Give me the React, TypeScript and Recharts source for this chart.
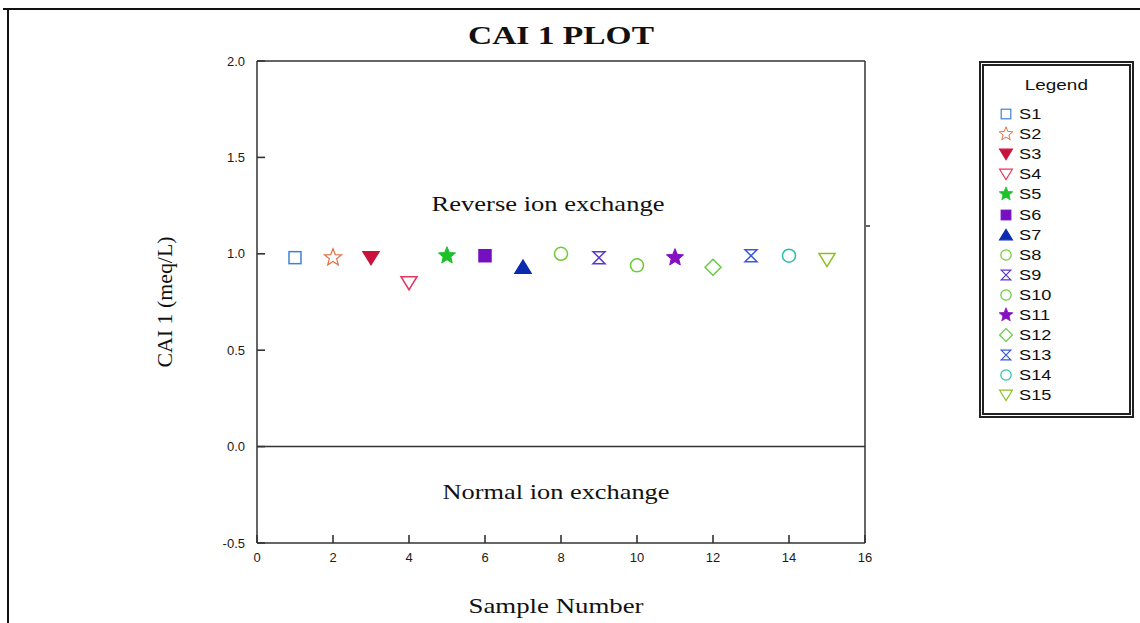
import { ReferenceLine, Scatter, ScatterChart, XAxis, YAxis } from 'recharts';

type Shape = 'square' | 'star' | 'triDown' | 'triUp' | 'circle' | 'hourglass' | 'diamond';

const seriesNames = ['S1', 'S2', 'S3', 'S4', 'S5', 'S6', 'S7', 'S8', 'S9', 'S10', 'S11', 'S12', 'S13', 'S14', 'S15'];
const sampleNumbers = [1, 2, 3, 4, 5, 6, 7, 8, 9, 10, 11, 12, 13, 14, 15];
const cai1Values = [0.98, 0.98, 0.98, 0.85, 0.99, 0.99, 0.93, 1.0, 0.98, 0.94, 0.98, 0.93, 0.99, 0.99, 0.97];
const seriesColors = [
  '#3f82d6', '#e07040', '#c8143c', '#e8365d', '#1fc02c', '#7410c0', '#0a2ab0', '#70cc30',
  '#5a38d0', '#66cc33', '#8410c0', '#66cc44', '#3a5ad8', '#2cc0a8', '#8cc020'
];
const seriesShapes: Shape[] = [
  'square', 'star', 'triDown', 'triDown', 'star', 'square', 'triUp', 'circle',
  'hourglass', 'circle', 'star', 'diamond', 'hourglass', 'circle', 'triDown'
];
const seriesFilled = [false, false, true, false, true, true, true, false, false, false, true, false, false, false, false];
const xTicks = [0, 2, 4, 6, 8, 10, 12, 14, 16];
const yTicks = [-0.5, 0, 0.5, 1, 1.5, 2];
const xDomain: [number, number] = [0, 16];
const yDomain: [number, number] = [-0.5, 2];

// plot box
const W = 1140;
const H = 623;
const plotLeft = 257;
const plotTop = 61;
const plotRight = 865;
const plotBottom = 543;

const axisColor = '#333';
const sans = 'Liberation Sans, Arial, sans-serif';
const serif = 'Liberation Serif, Times New Roman, serif';

function starPath(cx: number, cy: number, ro: number, ri: number) {
  const pts: string[] = [];
  for (let i = 0; i < 10; i++) {
    const r = i % 2 === 0 ? ro : ri;
    const a = -Math.PI / 2 + (i * Math.PI) / 5;
    pts.push(`${cx + r * Math.cos(a)},${cy + r * Math.sin(a)}`);
  }
  return `M${pts.join('L')}Z`;
}

function Marker({ cx, cy, shape, color, filled }: { cx: number; cy: number; shape: Shape; color: string; filled: boolean }) {
  const fill = filled ? color : 'none';
  const common = { stroke: color, strokeWidth: 1.5, fill };
  switch (shape) {
    case 'square':
      return <rect x={cx - 6} y={cy - 6} width={12} height={12} {...common} />;
    case 'star':
      return <path d={starPath(cx, cy, 9, filled ? 4 : 3.8)} {...common} strokeWidth={filled ? 1 : 1.2} />;
    case 'triDown':
      return <path d={`M${cx - 8},${cy - 6}L${cx + 8},${cy - 6}L${cx},${cy + 7}Z`} {...common} />;
    case 'triUp':
      return <path d={`M${cx - 8},${cy + 6}L${cx + 8},${cy + 6}L${cx},${cy - 7}Z`} {...common} />;
    case 'circle':
      return <circle cx={cx} cy={cy} r={6.5} {...common} />;
    case 'hourglass':
      return <path d={`M${cx - 6},${cy - 6}L${cx + 6},${cy - 6}L${cx - 6},${cy + 6}L${cx + 6},${cy + 6}Z`} {...common} />;
    case 'diamond':
      return <path d={`M${cx},${cy - 8}L${cx + 8},${cy}L${cx},${cy + 8}L${cx - 8},${cy}Z`} {...common} />;
  }
  return null;
}

const series = seriesNames.map((name, i) => ({
  name,
  color: seriesColors[i],
  shape: seriesShapes[i],
  filled: seriesFilled[i],
  data: [{ x: sampleNumbers[i], y: cai1Values[i] }]
}));

const renderYTick = (p: any) => (
  <text key={`y-${p.index}`} x={Number(p.x) - 12} y={p.y} dy="0.35em" textAnchor="end" fontFamily={sans} fontSize={13} fill="#1a1a1a">
    {Number(p.payload.value).toFixed(1)}
  </text>
);

const renderXTick = (p: any) => (
  <text key={`x-${p.index}`} x={p.x} y={Number(p.y) + 14} dy="0.35em" textAnchor="middle" fontFamily={sans} fontSize={13} fill="#1a1a1a">
    {p.payload.value}
  </text>
);

// inward tick marks on the left and bottom axes, placed from the tick arrays
function AxisTicks() {
  const sx = (v: number) => plotLeft + ((v - xDomain[0]) / (xDomain[1] - xDomain[0])) * (plotRight - plotLeft);
  const sy = (v: number) => plotBottom - ((v - yDomain[0]) / (yDomain[1] - yDomain[0])) * (plotBottom - plotTop);
  return (
    <g stroke={axisColor} strokeWidth={1.6}>
      {yTicks.map((v) => (
        <line key={`yt-${v}`} x1={plotLeft} x2={plotLeft + 8} y1={sy(v)} y2={sy(v)} />
      ))}
      {xTicks.map((v) => (
        <line key={`xt-${v}`} x1={sx(v)} x2={sx(v)} y1={plotBottom} y2={plotBottom - 8} />
      ))}
    </g>
  );
}

function LegendBox() {
  const txt = { display: 'inline-block', transform: 'scaleX(1.3)', transformOrigin: 'left center' } as const;
  return (
    <div
      style={{
        position: 'absolute',
        left: 979,
        top: 61,
        width: 155,
        height: 357,
        boxSizing: 'border-box',
        border: '5px double #222',
        fontFamily: sans,
        fontSize: 14,
        color: '#111'
      }}
    >
      <div style={{ position: 'absolute', top: 11, left: 0, right: 0, textAlign: 'center' }}>
        <span style={{ display: 'inline-block', transform: 'scaleX(1.35)' }}>Legend</span>
      </div>
      {series.map((s, i) => (
        <div key={s.name} style={{ position: 'absolute', left: 13, top: 39 + i * 20.1, height: 18, display: 'flex', alignItems: 'center' }}>
          <svg width={18} height={18} style={{ marginRight: 4 }}>
            <g transform="translate(1.8,1.8) scale(0.8)">
              <Marker cx={9} cy={9} shape={s.shape} color={s.color} filled={s.filled} />
            </g>
          </svg>
          <span style={txt}>{s.name}</span>
        </div>
      ))}
    </div>
  );
}

export default function App() {
  return (
    <div style={{ position: 'absolute', left: 0, top: 0, width: W, height: H, background: '#fff', overflow: 'hidden' }}>
      <ScatterChart width={W} height={H} margin={{ top: plotTop, right: W - plotRight, bottom: 0, left: 0 }}>
        <XAxis
          type="number"
          dataKey="x"
          domain={xDomain}
          ticks={xTicks}
          height={H - plotBottom}
          stroke={axisColor}
          strokeWidth={1.5}
          tickSize={0}
          tickMargin={0}
          tickLine={false}
          tick={renderXTick}
          allowDataOverflow
        />
        <YAxis
          type="number"
          dataKey="y"
          domain={yDomain}
          ticks={yTicks}
          width={plotLeft}
          stroke={axisColor}
          strokeWidth={1.5}
          tickSize={0}
          tickMargin={0}
          tickLine={false}
          tick={renderYTick}
          allowDataOverflow
        />
        <ReferenceLine y={yDomain[1]} stroke={axisColor} strokeWidth={1.5} />
        <ReferenceLine x={xDomain[1]} stroke={axisColor} strokeWidth={1.5} />
        <ReferenceLine y={0} stroke={axisColor} strokeWidth={1.5} />
        {series.map((s) => (
          <Scatter
            key={s.name}
            name={s.name}
            data={s.data}
            fill={s.color}
            isAnimationActive={false}
            shape={(p: any) => <Marker cx={p.cx} cy={p.cy} shape={s.shape} color={s.color} filled={s.filled} />}
          />
        ))}
      </ScatterChart>
      <svg width={W} height={H} style={{ position: 'absolute', left: 0, top: 0, pointerEvents: 'none' }}>
        <path d="M3,9L1140,9M8,9L8,623" stroke="#111" strokeWidth={2} fill="none" />
        <AxisTicks />
        <text x={561} y={44} textAnchor="middle" fontFamily={serif} fontWeight="bold" fontSize={26} fill="#111" textLength={186} lengthAdjust="spacingAndGlyphs">CAI 1 PLOT</text>
        <text x={548} y={211} textAnchor="middle" fontFamily={serif} fontSize={22} fill="#111" textLength={233} lengthAdjust="spacingAndGlyphs">Reverse ion exchange</text>
        <text x={556} y={499} textAnchor="middle" fontFamily={serif} fontSize={22} fill="#111" textLength={227} lengthAdjust="spacingAndGlyphs">Normal ion exchange</text>
        <text x={556} y={613} textAnchor="middle" fontFamily={serif} fontSize={22} fill="#111" textLength={175} lengthAdjust="spacingAndGlyphs">Sample Number</text>
        <text x={172} y={302} textAnchor="middle" fontFamily={serif} fontSize={20} fill="#111" transform="rotate(-90 172 302)" textLength={131} lengthAdjust="spacingAndGlyphs">CAI 1 (meq/L)</text>
        <path d="M866,226L870,226" stroke="#333" strokeWidth={1.5} />
      </svg>
      <LegendBox />
    </div>
  );
}
